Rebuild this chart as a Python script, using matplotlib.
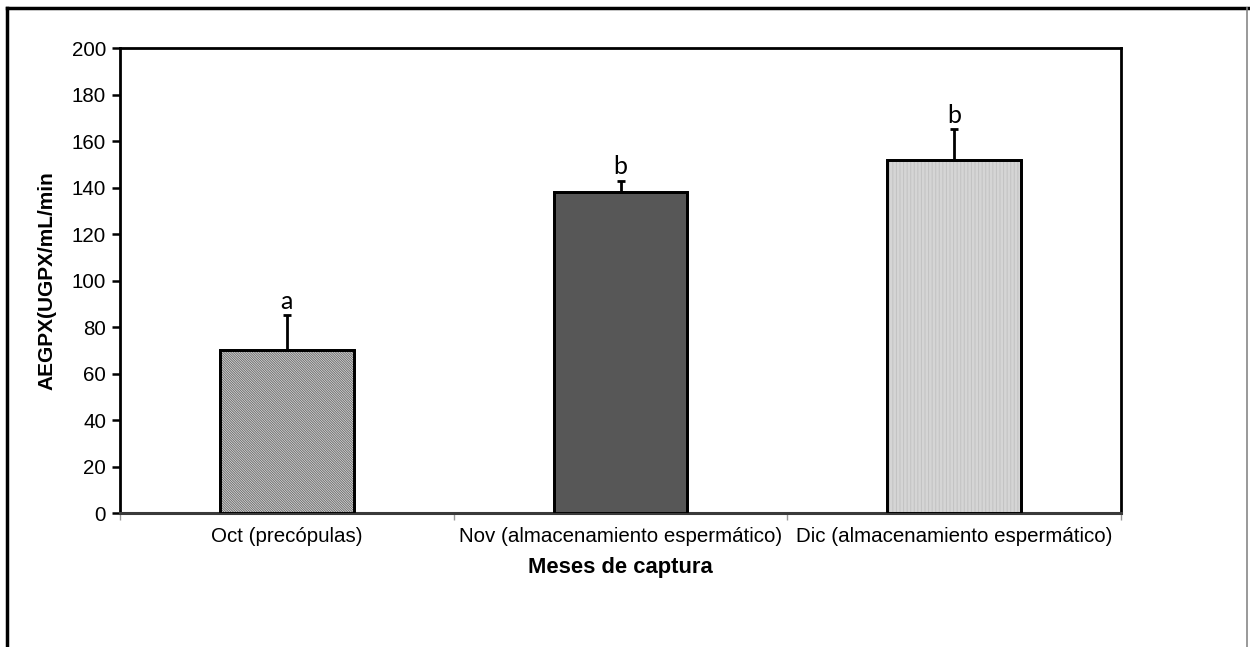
import matplotlib
matplotlib.use("Agg")
import matplotlib.pyplot as plt
from matplotlib.lines import Line2D

# Data
categories = ["Oct (precópulas)",
              "Nov (almacenamiento espermático)",
              "Dic (almacenamiento espermático)"]
means = [70, 138, 152]
errors = [15, 5, 13]
letters = ["a", "b", "b"]
y_ticks = [0, 20, 40, 60, 80, 100, 120, 140, 160, 180, 200]

plt.rcParams["font.family"] = ["Liberation Sans", "DejaVu Sans"]
plt.rcParams["hatch.linewidth"] = 0.7

fig = plt.figure(figsize=(12.5, 6.47), dpi=100)
ax = fig.add_axes([0.096, 0.2071, 0.8008, 0.7187])

x = list(range(len(categories)))
faces = ["#e2e2e2", "#575757", "#f0f0f0"]
hatches = ["\\" * 14, None, "|" * 12]
hatch_colors = ["#6e6e6e", "#575757", "#c2c2c2"]

for xi, m, fc, h, hc in zip(x, means, faces, hatches, hatch_colors):
    bar = ax.bar(xi, m, width=0.4, color=fc, edgecolor="black",
                 linewidth=2, hatch=h, zorder=2)[0]
    if h:
        bar._hatch_color = matplotlib.colors.to_rgba(hc)
    # outline drawn separately so the hatch colour does not override it
    ax.bar(xi, m, width=0.4, color="none", edgecolor="black",
           linewidth=2, zorder=3)

ax.errorbar(x, means, yerr=[[0] * len(means), errors], fmt="none",
            ecolor="black", elinewidth=2, capsize=3, capthick=2, zorder=4)

for xi, m, e, lab in zip(x, means, errors, letters):
    ax.text(xi, m + e + 1.2, lab, ha="center", va="bottom",
            fontsize=18, family=["Lato", "DejaVu Sans"])

ax.set_xlim(-0.5, 2.5)
ax.set_ylim(0, 200)
ax.set_yticks(y_ticks)
ax.tick_params(axis="y", direction="out", length=6, width=1.8,
               labelsize=14.8, pad=4)
ax.set_xticks(x)
ax.set_xticklabels(categories, fontsize=14.8)
ax.tick_params(axis="x", length=0, pad=10)
ax.set_xticks([-0.5, 0.5, 1.5, 2.5], minor=True)
ax.tick_params(axis="x", which="minor", length=5, width=1, color="#999999")

for side in ["left", "top", "right"]:
    ax.spines[side].set_linewidth(2)
    ax.spines[side].set_color("black")
ax.spines["bottom"].set_linewidth(2.2)
ax.spines["bottom"].set_color("#3a3a3a")

ax.set_ylabel("AEGPX(UGPX/mL/min", fontsize=15, fontweight="bold",
              labelpad=11)
ax.set_xlabel("Meses de captura", fontsize=15.8, fontweight="bold",
              labelpad=8)

# Outer frame (top, left, right)
fig.add_artist(Line2D([0.0056, 0.998], [1 - 8 / 647, 1 - 8 / 647],
                      transform=fig.transFigure, color="black", lw=2.5))
fig.add_artist(Line2D([0.0056, 0.0056], [0, 1 - 8 / 647],
                      transform=fig.transFigure, color="black", lw=2.5))
fig.add_artist(Line2D([0.9978, 0.9978], [0, 1 - 8 / 647],
                      transform=fig.transFigure, color="#888888", lw=1.2))

fig.savefig("out.png", dpi=100)
